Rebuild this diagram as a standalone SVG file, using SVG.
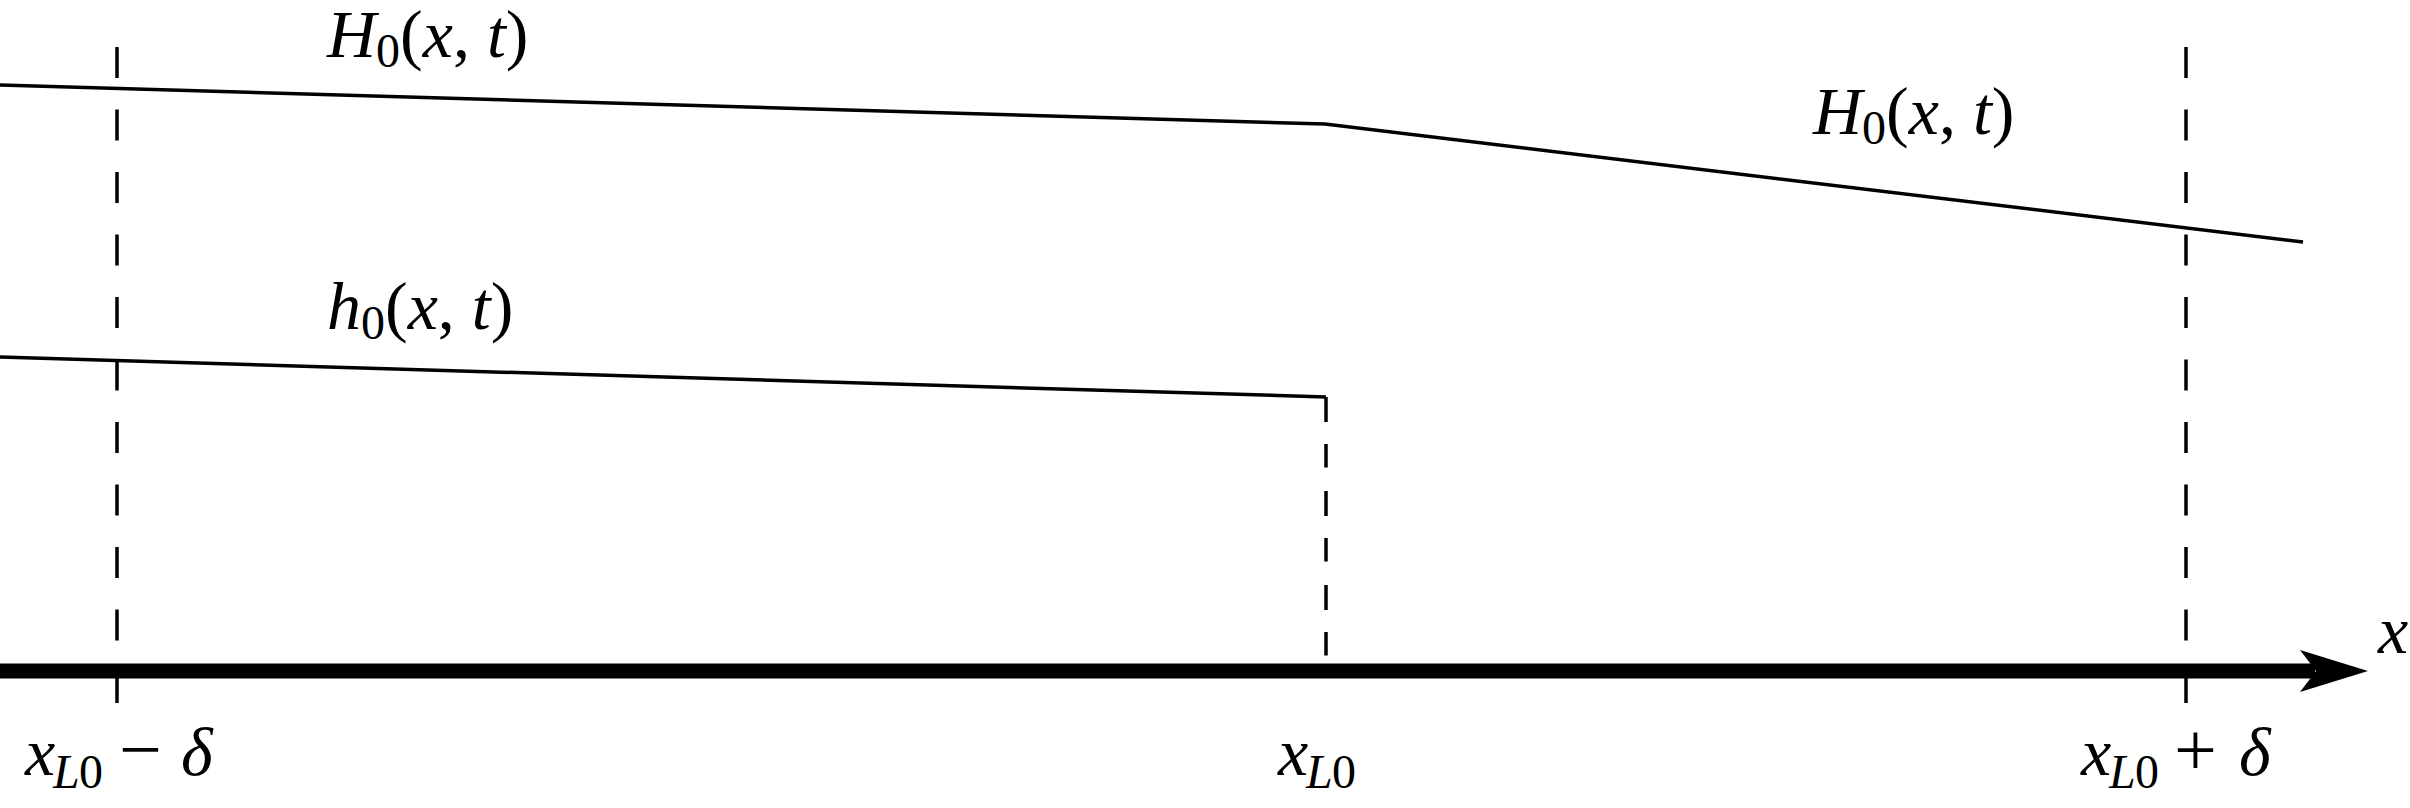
<svg xmlns="http://www.w3.org/2000/svg" width="2410" height="808" viewBox="0 0 2410 808">
<style>
.bg{fill:#fff}
.ln{fill:none;stroke:#000;stroke-width:3.5}
.ds{fill:none;stroke:#000;stroke-width:3.5;stroke-dasharray:31 31.5}
.dm{fill:none;stroke:#000;stroke-width:3.5;stroke-dasharray:25 22 23.5 23.5}
.ax{fill:none;stroke:#000;stroke-width:15}
.m{font-family:"Liberation Serif","Times New Roman",serif;font-size:68px;fill:#000}
.i{font-style:italic}
.s{font-size:48px}
.op{font-size:76px}
</style>
<rect class="bg" x="0" y="0" width="2410" height="808"/>
<g id="connectors">
<polyline class="ln" points="0,85 1325,124 2303,242"/>
<polyline class="ln" points="0,357 1326,397"/>
<line class="dm" x1="1326" y1="397" x2="1326" y2="663"/>
<line class="ds" x1="117" y1="47" x2="117" y2="704"/>
<line class="ds" x1="2186" y1="47" x2="2186" y2="704"/>
<line class="ax" x1="0" y1="671" x2="2315" y2="671"/>
<polygon points="2368,671 2300,650 2316,671 2300,692" fill="#000"/>
</g>
<g id="label-H0-left">
<text class="m" x="327" y="57"><tspan class="i">H</tspan><tspan class="s" dy="10">0</tspan><tspan dy="-10">(</tspan><tspan class="i">x</tspan>, <tspan class="i">t</tspan>)</text>
</g>
<g id="label-H0-right">
<text class="m" x="1813" y="134"><tspan class="i">H</tspan><tspan class="s" dy="10">0</tspan><tspan dy="-10">(</tspan><tspan class="i">x</tspan>, <tspan class="i">t</tspan>)</text>
</g>
<g id="label-h0">
<text class="m" x="327" y="329"><tspan class="i">h</tspan><tspan class="s" dy="10">0</tspan><tspan dy="-10">(</tspan><tspan class="i">x</tspan>, <tspan class="i">t</tspan>)</text>
</g>
<g id="label-x">
<text class="m i" x="2378" y="653">x</text>
</g>
<g id="label-xL0-minus">
<text class="m" y="775"><tspan class="i" x="25">x</tspan><tspan class="i s" x="53" dy="13">L</tspan><tspan class="s" x="79">0</tspan><tspan class="op" x="119" dy="-13">−</tspan><tspan class="i" x="181">δ</tspan></text>
</g>
<g id="label-xL0">
<text class="m" y="775"><tspan class="i" x="1278">x</tspan><tspan class="i s" x="1306" dy="13">L</tspan><tspan class="s" x="1332">0</tspan></text>
</g>
<g id="label-xL0-plus">
<text class="m" y="775"><tspan class="i" x="2081">x</tspan><tspan class="i s" x="2109" dy="13">L</tspan><tspan class="s" x="2135">0</tspan><tspan class="op" x="2174" dy="-13">+</tspan><tspan class="i" x="2239">δ</tspan></text>
</g>
</svg>
